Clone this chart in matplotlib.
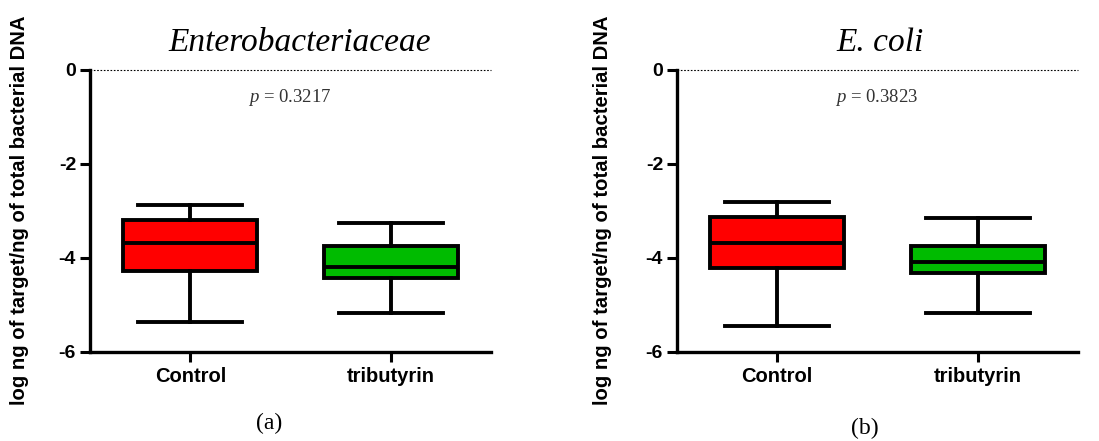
import matplotlib
matplotlib.use("Agg")
import matplotlib.pyplot as plt

plt.rcParams["mathtext.fontset"] = "custom"
plt.rcParams["mathtext.it"] = "Liberation Serif:italic"
plt.rcParams["mathtext.rm"] = "Liberation Serif"

groups = ["Control", "tributyrin"]
colors = ["#ff0000", "#00bb00"]

# box stats: whisker low, Q1, median, Q3, whisker high
enterobact = [[-5.37, -4.27, -3.69, -3.19, -2.87],
              [-5.16, -4.43, -4.20, -3.74, -3.25]]
ecoli = [[-5.44, -4.21, -3.68, -3.13, -2.81],
         [-5.16, -4.31, -4.09, -3.74, -3.15]]

titles = ["Enterobacteriaceae", "E. coli"]
pvals = ["0.3217", "0.3823"]
panel_tags = ["(a)", "(b)"]
ylabel = "log ng of target/ng of total bacterial DNA"

W, H = 1099, 441
fig = plt.figure(figsize=(W / 100, H / 100), dpi=100)
SANS = "Liberation Sans"
SERIF = "Liberation Serif"


def draw(ax, stats):
    bxp = []
    for g, s in zip(groups, stats):
        bxp.append(dict(label=g, whislo=s[0], q1=s[1], med=s[2], q3=s[3], whishi=s[4], fliers=[]))
    b = ax.bxp(bxp, positions=[0, 1], widths=0.67, patch_artist=True, showfliers=False,
               boxprops=dict(lw=2.8, edgecolor="black"),
               medianprops=dict(lw=2.8, color="black"),
               whiskerprops=dict(lw=2.8, color="black"),
               capprops=dict(lw=2.8, color="black"), capwidths=0.52)
    for patch, c in zip(b["boxes"], colors):
        patch.set_facecolor(c)
    ax.axhline(0, color="black", lw=0.8, ls=(0, (1.5, 1.5)), clip_on=False, zorder=0)
    ax.set_xlim(-0.5, 1.5)
    ax.set_ylim(-6, 0)
    ax.set_yticks([0, -2, -4, -6])
    ax.set_yticklabels(["0", "-2", "-4", "-6"])
    for s in ["top", "right"]:
        ax.spines[s].set_visible(False)
    for s in ["left", "bottom"]:
        ax.spines[s].set_linewidth(2.4)
    ax.tick_params(width=2.2, length=7)
    ax.tick_params(axis="x", labelsize=14.5, pad=4)
    ax.tick_params(axis="y", labelsize=14, pad=3)
    for lab in ax.get_xticklabels() + ax.get_yticklabels():
        lab.set_fontfamily(SANS)
        lab.set_fontweight("bold")


lefts = [90, 677]
label_x = [20, 602]
title_x = [300, 880]
p_x = [290, 877]
tag_x = [269, 865]
tag_y = [423, 428]
for i, stats in enumerate([enterobact, ecoli]):
    ax = fig.add_axes([lefts[i] / W, (H - 352) / H, 401 / W, 282 / H])
    draw(ax, stats)
    fig.text(label_x[i] / W, 1 - 210 / H, ylabel, rotation=90, ha="center",
             va="center", fontsize=14.6, fontweight="bold", family=SANS)
    fig.text(title_x[i] / W, 1 - 43 / H, titles[i], ha="center", va="center",
             fontsize=24, style="italic", family=SERIF)
    fig.text(p_x[i] / W, 1 - 97 / H, "$\\it{p}$ = " + pvals[i], ha="center", va="center",
             fontsize=13.5, family=SERIF, color="#333333")
    fig.text(tag_x[i] / W, 1 - tag_y[i] / H, panel_tags[i], ha="center", va="center",
             fontsize=17, family=SERIF)

fig.savefig("out.png", dpi=100)
